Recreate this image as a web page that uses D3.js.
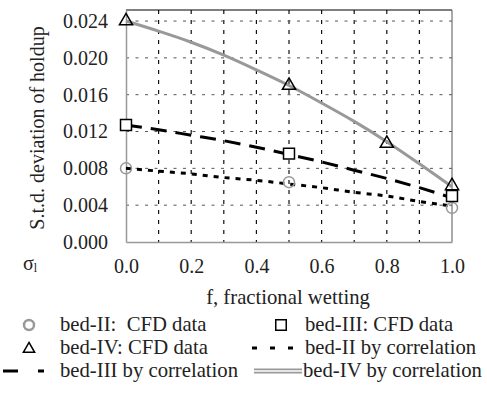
<!DOCTYPE html>
<html>
<head>
<meta charset="utf-8">
<script src="https://cdn.jsdelivr.net/npm/d3@7"></script>
<style>
  body { margin: 0; background: #fff; }
  svg text { font-family: "Liberation Serif", "Times New Roman", Times, "DejaVu Serif", serif; fill: #222; }
</style>
</head>
<body>
<div id="chart"></div>
<script>
// CFD points
var bed2F = [0, 0.5, 1.0];
var bed2Cfd = [0.0080, 0.0065, 0.0037];
var bed3F = [0, 0.5, 1.0];
var bed3Cfd = [0.0127, 0.0096, 0.0050];
var bed4F = [0, 0.5, 0.8, 1.0];
var bed4Cfd = [0.0240, 0.0170, 0.0107, 0.0061];

// correlation curves
var corrF = [0, 0.1, 0.2, 0.3, 0.4, 0.5, 0.6, 0.7, 0.8, 0.9, 1.0];
var bed2Corr = [0.0080, 0.0077, 0.0074, 0.0070, 0.0067, 0.0063, 0.0059, 0.0054, 0.0050, 0.0044, 0.0039];
var bed3Corr = [0.0127, 0.0122, 0.0116, 0.0110, 0.0103, 0.0095, 0.0087, 0.0078, 0.0069, 0.0059, 0.0048];
var bed4Corr = [0.0240, 0.0229, 0.0217, 0.0203, 0.0187, 0.0170, 0.0151, 0.0131, 0.0109, 0.0085, 0.0060];

var xTicks = [0, 0.2, 0.4, 0.6, 0.8, 1.0];
var yTicks = [0, 0.004, 0.008, 0.012, 0.016, 0.020, 0.024];

var width = 487, height = 393;
var pLeft = 126, pRight = 452, pTop = 10, pBottom = 242;
var gray = "#999";
var fontPx = '20px';
var legendPx = '20.7px';
var serif = '"Liberation Serif", "Times New Roman", Times, "DejaVu Serif", serif';

var x = d3.scaleLinear().domain([0, 1]).range([pLeft, pRight]);
var y = d3.scaleLinear().domain([0, 0.0252]).range([pBottom, pTop]);

var svg = d3.select('#chart').append('svg')
      .attr('width', width)
      .attr('height', height);

//grid
svg.append('g').selectAll('line')
      .data(d3.range(1, 10).map(function (i) { return i / 10; }))
      .enter().append('line')
      .attr('x1', function (d) { return x(d); }).attr('x2', function (d) { return x(d); })
      .attr('y1', pTop).attr('y2', pBottom)
      .attr('stroke', '#111').attr('stroke-width', 1.2).attr('stroke-dasharray', '4,6');
svg.append('g').selectAll('line')
      .data(yTicks.slice(1))
      .enter().append('line')
      .attr('x1', pLeft).attr('x2', pRight)
      .attr('y1', function (d) { return y(d); }).attr('y2', function (d) { return y(d); })
      .attr('stroke', '#555').attr('stroke-width', 1).attr('stroke-dasharray', '3,6.5');

//frame
svg.append('line').attr('x1', pLeft).attr('x2', pRight).attr('y1', pTop).attr('y2', pTop)
      .attr('stroke', '#000').attr('stroke-width', 1);
svg.append('line').attr('x1', pRight).attr('x2', pRight).attr('y1', pTop).attr('y2', pBottom)
      .attr('stroke', '#555').attr('stroke-width', 1);

//axes
var yAxis = svg.append('g').attr('transform', 'translate(' + pLeft + ',0)')
      .call(d3.axisLeft(y).tickValues(yTicks).tickSize(0).tickPadding(18).tickFormat(d3.format('.3f')));
var xAxis = svg.append('g').attr('transform', 'translate(0,' + pBottom + ')')
      .call(d3.axisBottom(x).tickValues(xTicks).tickSize(0).tickPadding(17).tickFormat(d3.format('.1f')));
[yAxis, xAxis].forEach(function (a) {
      a.attr('font-family', null);
      a.select('.domain').attr('stroke', gray).attr('stroke-width', 1.5);
      a.selectAll('text').style('font-size', fontPx).style('font-family', serif).attr('fill', '#222');
});

//titles
svg.append('text')
      .attr('transform', 'translate(44,' + ((pTop + pBottom) / 2 + 2) + ') rotate(-90)')
      .attr('text-anchor', 'middle')
      .style('font-size', fontPx)
      .text('S.t.d. deviation of holdup');
svg.append('text')
      .attr('x', 288).attr('y', 304)
      .attr('text-anchor', 'middle')
      .style('font-size', legendPx)
      .text('f, fractional wetting');
var sig = svg.append('text').attr('x', 23).attr('y', 270).style('font-size', fontPx);
sig.append('tspan').text('σ');
sig.append('tspan').attr('dy', 2).style('font-size', '12px').text('l');

//lines
var line = d3.line()
      .x(function (d) { return x(d[0]); })
      .y(function (d) { return y(d[1]); })
      .curve(d3.curveMonotoneX);
function pairs(xs, ys) { return xs.map(function (v, i) { return [v, ys[i]]; }); }

svg.append('path').attr('d', line(pairs(corrF, bed4Corr)))
      .attr('fill', 'none').attr('stroke', gray).attr('stroke-width', 3);
svg.append('path').attr('d', line(pairs(corrF, bed3Corr)))
      .attr('fill', 'none').attr('stroke', '#000').attr('stroke-width', 3).attr('stroke-dasharray', '16,9');
svg.append('path').attr('d', line(pairs(corrF, bed2Corr)))
      .attr('fill', 'none').attr('stroke', '#000').attr('stroke-width', 3).attr('stroke-dasharray', '5,6');

//markers
var tri = d3.symbol().type(d3.symbolTriangle).size(75);
var sq = d3.symbol().type(d3.symbolSquare).size(120);

svg.append('g').selectAll('circle')
      .data(pairs(bed2F, bed2Cfd))
      .enter().append('circle')
      .attr('cx', function (d) { return x(d[0]); })
      .attr('cy', function (d) { return y(d[1]); })
      .attr('r', 5.5)
      .attr('fill', 'none').attr('stroke', gray).attr('stroke-width', 1.5);
svg.append('g').selectAll('path')
      .data(pairs(bed3F, bed3Cfd))
      .enter().append('path')
      .attr('d', sq)
      .attr('transform', function (d) { return 'translate(' + x(d[0]) + ',' + y(d[1]) + ')'; })
      .attr('fill', '#fff').attr('stroke', '#000').attr('stroke-width', 1.5);
svg.append('g').selectAll('path')
      .data(pairs(bed4F, bed4Cfd))
      .enter().append('path')
      .attr('d', tri)
      .attr('transform', function (d) { return 'translate(' + x(d[0]) + ',' + y(d[1]) + ')'; })
      .attr('fill', 'none').attr('stroke', '#000').attr('stroke-width', 1.5);

//legend
var rowY = [325, 348, 371];
var lg = svg.append('g').style('font-size', legendPx);
function label(tx, ty, s) {
      lg.append('text').attr('x', tx).attr('y', ty + 6).text(s);
}
lg.append('circle').attr('cx', 29).attr('cy', rowY[0]).attr('r', 5)
      .attr('fill', 'none').attr('stroke', gray).attr('stroke-width', 2.5);
label(60, rowY[0], 'bed-II:\u00a0 CFD data');
lg.append('path').attr('d', d3.symbol().type(d3.symbolSquare).size(110)).attr('transform', 'translate(281,' + rowY[0] + ')')
      .attr('fill', 'none').attr('stroke', '#000').attr('stroke-width', 1.5);
label(305, rowY[0], 'bed-III: CFD data');
lg.append('path').attr('d', d3.symbol().type(d3.symbolTriangle).size(55)).attr('transform', 'translate(29,' + (rowY[1] + 1) + ')')
      .attr('fill', 'none').attr('stroke', '#000').attr('stroke-width', 1.5);
label(60, rowY[1], 'bed-IV: CFD data');
lg.append('line').attr('x1', 252).attr('x2', 296).attr('y1', rowY[1]).attr('y2', rowY[1])
      .attr('stroke', '#000').attr('stroke-width', 3).attr('stroke-dasharray', '5,13');
label(305, rowY[1], 'bed-II by correlation');
lg.append('line').attr('x1', 3).attr('x2', 44).attr('y1', rowY[2]).attr('y2', rowY[2])
      .attr('stroke', '#000').attr('stroke-width', 3).attr('stroke-dasharray', '15,20');
label(60, rowY[2], 'bed-III by correlation');
lg.append('line').attr('x1', 254).attr('x2', 302).attr('y1', rowY[2]).attr('y2', rowY[2])
      .attr('stroke', gray).attr('stroke-width', 5);
lg.append('line').attr('x1', 254).attr('x2', 302).attr('y1', rowY[2]).attr('y2', rowY[2])
      .attr('stroke', '#fff').attr('stroke-width', 1.5);
label(303, rowY[2], 'bed-IV by correlation');
</script>
</body>
</html>
